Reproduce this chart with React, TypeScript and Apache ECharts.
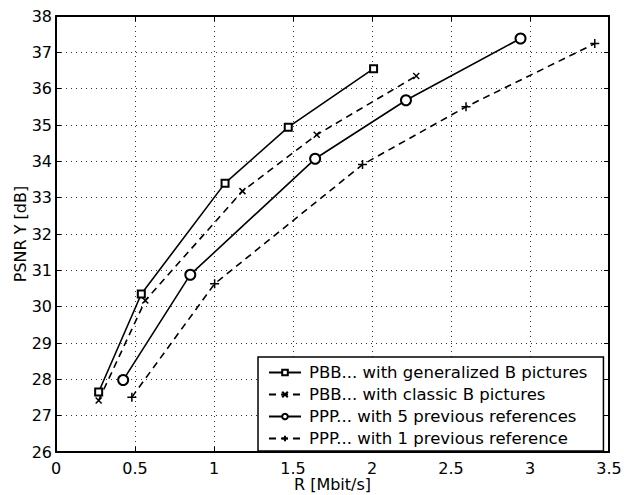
import React, { useEffect, useRef } from "react";
import * as echarts from "echarts";

const seriesNames = [
  "PBB... with generalized B pictures",
  "PBB... with classic B pictures",
  "PPP... with 5 previous references",
  "PPP... with 1 previous reference",
];

const genB: [number, number][] = [
  [0.27, 27.65], [0.54, 30.35], [1.07, 33.4], [1.47, 34.94], [2.01, 36.55],
];
const classicB: [number, number][] = [
  [0.27, 27.42], [0.565, 30.17], [1.18, 33.18], [1.65, 34.73], [2.28, 36.35],
];
const prev5: [number, number][] = [
  [0.425, 27.98], [0.85, 30.88], [1.64, 34.07], [2.215, 35.68], [2.94, 37.38],
];
const prev1: [number, number][] = [
  [0.48, 27.51], [1.004, 30.63], [1.94, 33.91], [2.595, 35.5], [3.41, 37.24],
];

const xTicks = { min: 0, max: 3.5, interval: 0.5 };
const yTicks = { min: 26, max: 38, interval: 1 };

const FONT = "'DejaVu Sans', 'Liberation Sans', Arial, sans-serif";

export default function App() {
  const ref = useRef<HTMLDivElement>(null);
  useEffect(() => {
    document.body.style.margin = "0";
    if (!ref.current) return;
    const chart = echarts.init(ref.current, null, { renderer: "svg" });
    const axisLine = { show: true, onZero: false, lineStyle: { color: "#000", width: 2 } };
    const tickInside = { show: true, inside: true, length: 5, lineStyle: { color: "#000", width: 1 } };
    const split = { show: true, lineStyle: { color: "#333", type: [1, 4] as any, width: 1 } };
    const labelStyle = { color: "#000", fontSize: 16, fontFamily: FONT };
    const mk = (name: string, data: [number, number][], dashed: boolean, symbol: string, size: number) => ({
      name,
      type: "line",
      data,
      symbol,
      symbolSize: size,
      lineStyle: { color: "#000", width: 1.6, type: dashed ? ([7, 5] as any) : "solid" },
      itemStyle: { color: "#000", borderColor: "#000", borderWidth: 1.5 },
      z: 5,
    });
    chart.setOption({
      animation: false,
      backgroundColor: "#fff",
      grid: { left: 56, right: 15, top: 16, bottom: 43, containLabel: false, outerBoundsMode: "none" },
      xAxis: [
        {
          type: "value",
          ...xTicks,
          position: "bottom",
          axisLine,
          axisTick: tickInside,
          splitLine: split,
          axisLabel: { ...labelStyle, margin: 8, formatter: (v: number) => String(v) },
          name: "R [Mbit/s]",
          nameLocation: "middle",
          nameGap: 24,
          nameMoveOverlap: false,
          nameTextStyle: { ...labelStyle },
        },
        {
          type: "value",
          ...xTicks,
          position: "top",
          axisLine,
          axisTick: tickInside,
          splitLine: { show: false },
          axisLabel: { show: false },
        },
      ],
      yAxis: [
        {
          type: "value",
          ...yTicks,
          position: "left",
          axisLine,
          axisTick: tickInside,
          splitLine: split,
          axisLabel: { ...labelStyle, margin: 4 },
          name: "PSNR Y [dB]",
          nameLocation: "middle",
          nameGap: 28,
          nameMoveOverlap: false,
          nameTextStyle: { ...labelStyle },
        },
        {
          type: "value",
          ...yTicks,
          position: "right",
          axisLine,
          axisTick: tickInside,
          splitLine: { show: false },
          axisLabel: { show: false },
        },
      ],
      legend: {
        orient: "vertical",
        left: 258,
        top: 357,
        backgroundColor: "#fff",
        borderColor: "#000",
        borderWidth: 1.5,
        borderRadius: 0,
        padding: [7, 16, 4, 10],
        itemGap: 5,
        itemWidth: 32,
        itemHeight: 7,
        textStyle: { ...labelStyle, fontSize: 16.5, padding: [0, 0, 0, 3] },
        data: seriesNames,
        z: 10,
      },
      series: [
        mk(seriesNames[0], genB, false, "emptyRect", 7),
        mk(seriesNames[1], classicB, true, "path://M0,0L10,10M0,10L10,0", 6),
        mk(seriesNames[2], prev5, false, "emptyCircle", 10),
        mk(seriesNames[3], prev1, true, "path://M5,0L5,10M0,5L10,5", 9),
      ],
    });
    return () => chart.dispose();
  }, []);
  return <div ref={ref} style={{ width: 624, height: 495 }} />;
}
